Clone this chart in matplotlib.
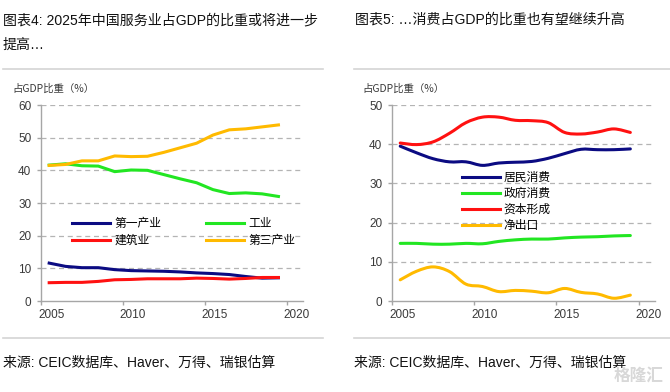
import matplotlib
matplotlib.use("Agg")
import matplotlib.pyplot as plt
from matplotlib.path import Path
from matplotlib.patches import PathPatch
from matplotlib.lines import Line2D
import matplotlib.transforms as mtransforms

plt.rcParams['font.family'] = ['Noto Sans CJK SC', 'DejaVu Sans']
MIXED = ['Liberation Sans', 'Noto Sans CJK SC', 'DejaVu Sans']

# data: annual shares of GDP (%), plotted at mid-year
years = list(range(2005, 2020))

primary = [11.6, 10.6, 10.2, 10.2, 9.6, 9.3, 9.2, 9.1, 8.9, 8.6, 8.4, 8.1, 7.5, 7.0, 7.1]
industry = [41.6, 42.0, 41.4, 41.3, 39.6, 40.1, 40.0, 38.7, 37.4, 36.2, 34.1, 32.9, 33.1, 32.8, 32.0]
construction = [5.6, 5.7, 5.7, 6.0, 6.5, 6.6, 6.8, 6.8, 6.8, 7.0, 6.9, 6.7, 6.9, 7.2, 7.2]
tertiary = [41.5, 41.8, 42.9, 42.9, 44.4, 44.2, 44.3, 45.5, 46.9, 48.3, 50.8, 52.4, 52.7, 53.3, 53.9]

household = [39.5, 37.8, 36.3, 35.5, 35.5, 34.6, 35.2, 35.4, 35.6, 36.4, 37.6, 38.7, 38.6, 38.6, 38.8]
government = [14.7, 14.7, 14.5, 14.5, 14.7, 14.6, 15.2, 15.6, 15.8, 15.8, 16.1, 16.3, 16.4, 16.6, 16.7]
capital = [40.3, 39.9, 40.6, 42.8, 45.5, 46.9, 46.9, 46.1, 46.0, 45.5, 43.0, 42.6, 43.1, 43.9, 43.0]
net_exports = [5.4, 7.6, 8.7, 7.5, 4.3, 3.7, 2.4, 2.7, 2.5, 2.1, 3.2, 2.2, 1.8, 0.7, 1.5]

left_labels = ['第一产业', '建筑业', '工业', '第三产业']
right_labels = ['居民消费', '政府消费', '资本形成', '净出口']
xtick_years = [2005, 2010, 2015, 2020]

NAVY = '#0b0b82'
GREEN = '#22e622'
RED = '#ff1111'
ORANGE = '#ffba00'
GRID = '#b4b4b4'
AXIS = '#a6a6a6'
TXT = '#3a3a3a'

xs = [y + 0.5 for y in years]

fig = plt.figure(figsize=(6.7, 3.92), dpi=100)
W, H = 670.0, 392.0


def box(x0, y_top, x1, y_bot):
    return [x0 / W, 1 - y_bot / H, (x1 - x0) / W, (y_bot - y_top) / H]


def smooth_path(x, y):
    # catmull-rom through the points, as bezier segments
    pts = list(zip(x, y))
    verts = [pts[0]]
    codes = [Path.MOVETO]
    n = len(pts)
    for i in range(n - 1):
        p0 = pts[i - 1] if i > 0 else pts[i]
        p1 = pts[i]
        p2 = pts[i + 1]
        p3 = pts[i + 2] if i + 2 < n else pts[i + 1]
        c1 = (p1[0] + (p2[0] - p0[0]) / 6, p1[1] + (p2[1] - p0[1]) / 6)
        c2 = (p2[0] - (p3[0] - p1[0]) / 6, p2[1] - (p3[1] - p1[1]) / 6)
        verts += [c1, c2, p2]
        codes += [Path.CURVE4] * 3
    return Path(verts, codes)


def style_axes(ax, ymax, ystep):
    ax.set_xlim(2005, 2021)
    ax.set_ylim(0, ymax)
    ax.set_yticks(range(0, ymax + 1, ystep))
    ax.set_xticks(xtick_years)
    ax.set_xticklabels([str(v) for v in xtick_years])
    for s in ['top', 'right']:
        ax.spines[s].set_visible(False)
    for s in ['left', 'bottom']:
        ax.spines[s].set_color(AXIS)
        ax.spines[s].set_linewidth(1.0)
    ax.tick_params(colors=AXIS, labelcolor=TXT, labelsize=8.5, length=3, width=1.0)
    ax.tick_params(axis='x', pad=3)
    ax.tick_params(axis='y', pad=4)
    for v in range(ystep, ymax + 1, ystep):
        ax.axhline(v, color=GRID, lw=0.9, ls=(0, (4, 3)), zorder=0)
    off = mtransforms.ScaledTranslation(-3 / 100, 0, fig.dpi_scale_trans)
    for lab in ax.get_xticklabels():
        lab.set_ha('left')
        lab.set_transform(lab.get_transform() + off)
        lab.set_family(['Liberation Sans', 'DejaVu Sans'])
    for lab in ax.get_yticklabels():
        lab.set_family(['Liberation Sans', 'DejaVu Sans'])


# ---- left chart
ax1 = fig.add_axes(box(41, 105, 303, 301))
style_axes(ax1, 60, 10)
lw = 2.2
ax1.plot(xs, primary, color=NAVY, lw=lw, label=left_labels[0], zorder=3)
ax1.plot(xs, construction, color=RED, lw=lw, label=left_labels[1], zorder=3)
ax1.plot(xs, industry, color=GREEN, lw=lw, label=left_labels[2], zorder=3)
ax1.plot(xs, tertiary, color=ORANGE, lw=lw, label=left_labels[3], zorder=3)
ax1.legend(ncol=2, loc='upper left', bbox_to_anchor=(72 / W, 1 - 217 / H),
           bbox_transform=fig.transFigure, frameon=False, fontsize=8.5,
           handlelength=3.2, handletextpad=0.4, columnspacing=3.8,
           labelspacing=0.35, borderaxespad=0, borderpad=0)

# ---- right chart
ax2 = fig.add_axes(box(392, 105, 655, 301))
style_axes(ax2, 50, 10)
handles = []
for vals, col, lab in [(household, NAVY, right_labels[0]),
                       (government, GREEN, right_labels[1]),
                       (capital, RED, right_labels[2]),
                       (net_exports, ORANGE, right_labels[3])]:
    ax2.add_patch(PathPatch(smooth_path(xs, vals), fill=False, edgecolor=col,
                            lw=lw, capstyle='round', joinstyle='round', zorder=3))
    handles.append(Line2D([], [], color=col, lw=lw, label=lab))
ax2.legend(handles=handles, loc='upper left', bbox_to_anchor=(462 / W, 1 - 171 / H),
           bbox_transform=fig.transFigure, frameon=False, fontsize=8.5,
           handlelength=3.2, handletextpad=0.3, labelspacing=0.25,
           borderaxespad=0, borderpad=0)

# ---- titles, separators, notes
fig.text(3 / W, 1 - 20 / H, '图表4: 2025年中国服务业占GDP的比重或将进一步', fontsize=10.1,
         va='center', ha='left', color='#111111', family=MIXED)
fig.text(3 / W, 1 - 45 / H, '提高…', fontsize=10.1, va='center', ha='left',
         color='#111111', family=MIXED)
fig.text(355 / W, 1 - 20 / H, '图表5: …消费占GDP的比重也有望继续升高', fontsize=10.1,
         va='center', ha='left', color='#111111', family=MIXED)

for x0, x1 in [(3, 323), (354, 670)]:
    for yy in [69, 338]:
        fig.add_artist(Line2D([x0 / W, x1 / W], [1 - yy / H, 1 - yy / H],
                              transform=fig.transFigure, color='#d4d4d4', lw=1.2))

fig.text(12 / W, 1 - 89 / H, '占GDP比重（%）', fontsize=7.5, va='center', ha='left', color=TXT)
fig.text(362 / W, 1 - 89 / H, '占GDP比重（%）', fontsize=7.5, va='center', ha='left', color=TXT)

src = '来源: CEIC数据库、Haver、万得、瑞银估算'
fig.text(3 / W, 1 - 363 / H, src, fontsize=10, va='center', ha='left',
         color='#111111', family=MIXED)
fig.text(354 / W, 1 - 363 / H, src, fontsize=10, va='center', ha='left',
         color='#111111', family=MIXED)

# faint watermark
fig.text(664 / W, 1 - 376 / H, '格隆汇', fontsize=12, va='center', ha='right',
         color='#d8d8d8', fontweight='bold')

fig.savefig('out.png', dpi=100)
